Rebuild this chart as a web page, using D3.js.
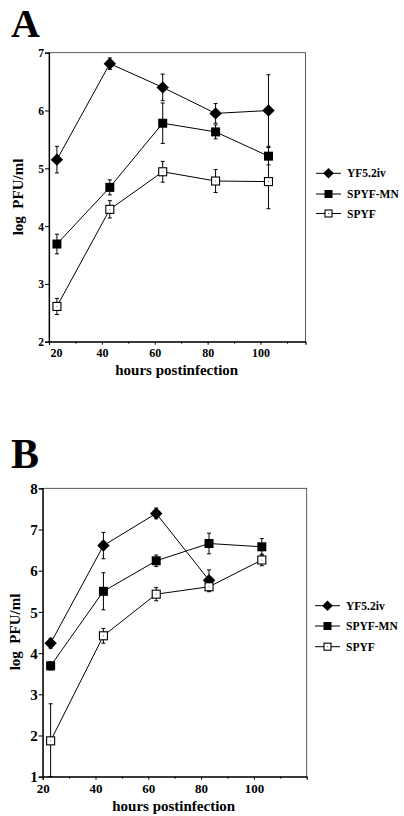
<!DOCTYPE html>
<html><head><meta charset="utf-8">
<script src="https://cdn.jsdelivr.net/npm/d3@7"></script>
<style>
html,body{margin:0;padding:0;background:#fff;}
svg{display:block;}
text{font-family:"Liberation Serif","Times New Roman",serif;font-weight:bold;fill:#000;}
</style></head>
<body>
<script>
// ---------- data ----------
const seriesNames = ["YF5.2iv", "SPYF-MN", "SPYF"];
const hoursA = [23, 43, 63, 83, 103];
const yfA    = [5.15, 6.81, 6.40, 5.95, 6.00];
const yfAerr = [0.23, 0.10, 0.23, 0.17, 0.62];
const mnA    = [3.69, 4.67, 5.78, 5.63, 5.21];
const mnAerr = [0.17, 0.13, 0.35, 0.12, 0.15];
const spA    = [2.61, 4.29, 4.94, 4.78, 4.77];
const spAerr = [0.14, 0.15, 0.18, 0.20, 0.47];

const hoursB = [23, 43, 63, 83, 103];
const yfB    = [4.24, 6.61, 7.39, 5.77];
const yfBerr = [0.12, 0.32, 0.13, 0.25];
const mnB    = [3.69, 5.50, 6.24, 6.66, 6.58];
const mnBerr = [0.10, 0.45, 0.14, 0.25, 0.20];
const spB    = [1.87, 4.42, 5.43, 5.61, 6.26];
const spBerr = [0.90, 0.18, 0.16, 0.12, 0.14];

const xTicks = [20, 40, 60, 80, 100];
const yTicksA = [2, 3, 4, 5, 6, 7];
const yTicksB = [1, 2, 3, 4, 5, 6, 7, 8];

const svg = d3.select("body").append("svg").attr("width", 404).attr("height", 816);

function marker(g, type, x, y, s) {
  if (type === "diamond") {
    g.append("path").attr("d", d3.symbol(d3.symbolDiamond2, s * s * 0.5)())
      .attr("transform", `translate(${x},${y}) `).attr("fill", "#000");
  } else if (type === "filled") {
    g.append("rect").attr("x", x - s / 2).attr("y", y - s / 2).attr("width", s).attr("height", s).attr("fill", "#000");
  } else {
    g.append("rect").attr("x", x - s / 2 + 0.5).attr("y", y - s / 2 + 0.5).attr("width", s - 1).attr("height", s - 1)
      .attr("fill", "#fff").attr("stroke", "#000").attr("stroke-width", 1.1);
    g.append("rect").attr("x", x - 0.5).attr("y", y - 0.5).attr("width", 1).attr("height", 1).attr("fill", "#777");
  }
}

function panel(cfg) {
  const x = d3.scaleLinear().domain(cfg.xDomain).range(cfg.xRange);
  const y = d3.scaleLinear().domain(cfg.yDomain).range(cfg.yRange);
  const g = svg.append("g");

  // frame
  g.append("rect").attr("x", cfg.xRange[0]).attr("y", cfg.yRange[1])
    .attr("width", cfg.xRange[1] - cfg.xRange[0]).attr("height", cfg.yRange[0] - cfg.yRange[1])
    .attr("fill", "none").attr("stroke", "#333").attr("stroke-width", 0.8);

  // axes
  const xAxis = g.append("g").attr("transform", `translate(0,${cfg.yRange[0]})`)
    .call(d3.axisBottom(x).tickValues(xTicks).tickSize(3).tickPadding(4).tickFormat(d3.format("d")));
  const xMinor = g.append("g").attr("transform", `translate(0,${cfg.yRange[0]})`)
    .call(d3.axisBottom(x).tickValues([30, 50, 70, 90, 110]).tickSize(2).tickFormat(""));
  xMinor.select(".domain").remove();
  const yAxis = g.append("g").attr("transform", `translate(${cfg.xRange[0]},0)`)
    .call(d3.axisLeft(y).tickValues(cfg.yTicks).tickSize(4).tickPadding(1).tickFormat(d3.format("d")));
  [xAxis, yAxis].forEach(a => {
    a.select(".domain").attr("stroke", "#000").attr("stroke-width", 1.2);
    a.selectAll(".tick line").attr("stroke", "#000").attr("stroke-width", 1);
  });
  xAxis.selectAll("text").attr("font-size", cfg.xTickFs).style("font-family", "Liberation Serif").style("font-weight", "bold")
    .attr("dx", (d, i) => i === 0 ? cfg.firstDx : 0);
  yAxis.selectAll("text").attr("font-size", cfg.yTickFs).style("font-family", "Liberation Serif").style("font-weight", "bold")
    .attr("dy", "0.35em");

  const series = [
    {vals: cfg.yf, err: cfg.yfErr, type: "diamond", size: 14},
    {vals: cfg.mn, err: cfg.mnErr, type: "filled", size: 9},
    {vals: cfg.sp, err: cfg.spErr, type: "open", size: 9}
  ];
  const [ymin, ymax] = cfg.yDomain;
  // error bars
  series.forEach(s => {
    s.vals.forEach((v, i) => {
      const cx = x(cfg.hours[i]);
      const hi = Math.min(v + s.err[i], ymax), lo = Math.max(v - s.err[i], ymin);
      g.append("line").attr("x1", cx).attr("x2", cx).attr("y1", y(hi)).attr("y2", y(lo))
        .attr("stroke", "#000").attr("stroke-width", 1);
      [hi, lo].forEach(e => g.append("line").attr("x1", cx - 2).attr("x2", cx + 2).attr("y1", y(e)).attr("y2", y(e))
        .attr("stroke", "#000").attr("stroke-width", 1));
    });
  });
  // lines
  const line = d3.line().x((d, i) => x(cfg.hours[i])).y(d => y(d));
  series.forEach(s => {
    g.append("path").attr("d", line(s.vals)).attr("fill", "none").attr("stroke", "#000").attr("stroke-width", 1);
  });
  // markers
  series.forEach(s => s.vals.forEach((v, i) => marker(g, s.type, x(cfg.hours[i]), y(v), s.size)));

  // legend
  seriesNames.forEach((name, i) => {
    const ly = cfg.legendY[i];
    g.append("line").attr("x1", cfg.legendX).attr("x2", cfg.legendX + 25).attr("y1", ly).attr("y2", ly)
      .attr("stroke", "#000").attr("stroke-width", 1);
    marker(g, series[i].type, cfg.legendX + 12.5, ly, series[i].type === "diamond" ? 12 : 8);
    g.append("text").attr("x", cfg.legendX + 31).attr("y", ly + 4).attr("font-size", 11.5).text(name);
  });

  // axis titles
  g.append("text").attr("x", (cfg.xRange[0] + cfg.xRange[1]) / 2 + cfg.xTitleDx).attr("y", cfg.xTitleY)
    .attr("text-anchor", "middle").attr("font-size", 15).text("hours postinfection");
  g.append("text").attr("transform", `translate(${cfg.yTitleX},${cfg.yTitleY}) rotate(-90)`)
    .attr("text-anchor", "middle").attr("font-size", 15).attr("xml:space", "preserve").style("white-space", "pre")
    .text("log  PFU/ml");

  // panel letter
  g.append("text").attr("x", 11).attr("y", cfg.letterY).attr("font-size", cfg.letterFs).text(cfg.letter);
}

panel({
  letter: "A", letterY: 37, letterFs: 40,
  hours: hoursA, yf: yfA, yfErr: yfAerr, mn: mnA, mnErr: mnAerr, sp: spA, spErr: spAerr,
  xDomain: [20, 117], xRange: [49, 305.5],
  yDomain: [2, 7], yRange: [341.7, 52.7], yTicks: yTicksA,
  xTickFs: 12, yTickFs: 11.5, firstDx: 7,
  legendX: 316, legendY: [173.3, 194, 213.5],
  xTitleY: 375, xTitleDx: -0.5, yTitleX: 23, yTitleY: 197
});

panel({
  letter: "B", letterY: 468, letterFs: 42,
  hours: hoursB, yf: yfB, yfErr: yfBerr, mn: mnB, mnErr: mnBerr, sp: spB, spErr: spBerr,
  xDomain: [20, 120], xRange: [42.7, 306.7],
  yDomain: [1, 8], yRange: [776.7, 488.3], yTicks: yTicksB,
  xTickFs: 13, yTickFs: 15, firstDx: 0,
  legendX: 315, legendY: [605.7, 626, 646.7],
  xTitleY: 811, xTitleDx: -1, yTitleX: 20, yTitleY: 632
});
</script>
</body></html>
